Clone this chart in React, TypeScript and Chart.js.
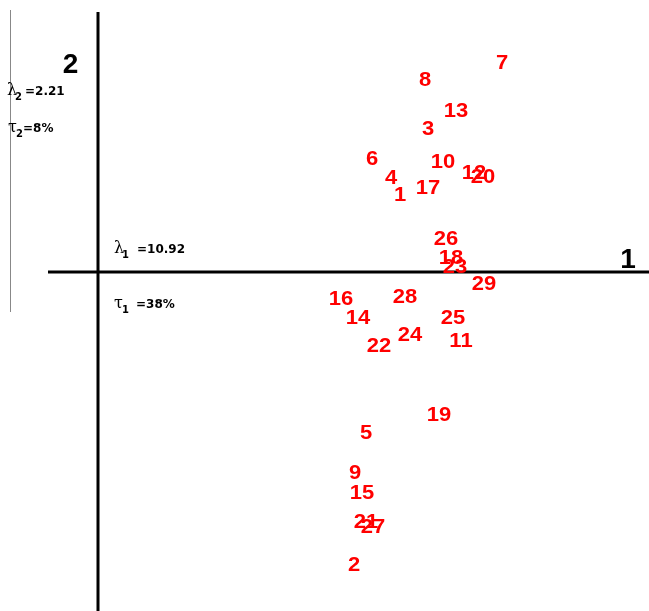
import React, { useEffect, useRef } from "react";
import { Chart, registerables } from "chart.js";

Chart.register(...registerables);

const pointLabels = ["1","2","3","4","5","6","7","8","9","10","11","12","13","14","15","16","17","18","19","20","21","22","23","24","25","26","27","28","29"];
const axis1Scores = [3.02,2.56,3.30,2.93,2.68,2.74,4.04,3.27,2.57,3.45,3.63,3.76,3.58,2.60,2.64,2.43,3.30,3.53,3.41,3.85,2.68,2.81,3.57,3.12,3.55,3.48,2.75,3.07,3.86];
const axis2Scores = [0.78,-2.92,1.44,0.95,-1.60,1.14,2.10,1.93,-2.00,1.11,-0.68,1.00,1.62,-0.45,-2.20,-0.26,0.85,0.15,-1.42,0.96,-2.49,-0.73,0.06,-0.62,-0.45,0.34,-2.54,-0.24,-0.11];
const axisNames = ["1", "2"];
const eigenvalues = ["10.92", "2.21"];
const inertiaShares = ["38%", "8%"];

const labelPlugin = {
  id: "pcaLabels",
  afterDraw(chart: any) {
    const ctx = chart.ctx;
    const xs = chart.scales.x;
    const ys = chart.scales.y;
    const ox = xs.getPixelForValue(0);
    const oy = ys.getPixelForValue(0);
    const W = chart.width;
    const H = chart.height;
    ctx.save();
    // thin gray line on far left
    ctx.strokeStyle = "#888";
    ctx.lineWidth = 1;
    ctx.beginPath();
    ctx.moveTo(10.5, 10);
    ctx.lineTo(10.5, oy + 40);
    ctx.stroke();
    // axes
    ctx.strokeStyle = "#000";
    ctx.lineWidth = 3;
    ctx.beginPath();
    ctx.moveTo(ox, 12);
    ctx.lineTo(ox, H);
    ctx.moveTo(ox - 50, oy);
    ctx.lineTo(W, oy);
    ctx.stroke();

    // axis names
    ctx.fillStyle = "#000";
    ctx.font = "bold 28px 'Liberation Sans', Arial, sans-serif";
    ctx.textAlign = "center";
    ctx.textBaseline = "alphabetic";
    ctx.fillText(axisNames[1], ox - 27.5, 73);
    ctx.fillText(axisNames[0], W - 21, oy - 4.5);

    const drawSub = (sym: string, sub: string, rest: string, x: number, y: number, restX: number) => {
      ctx.textAlign = "left";
      ctx.textBaseline = "alphabetic";
      ctx.font = "16px 'DejaVu Serif', serif";
      ctx.fillText(sym, x, y);
      ctx.font = "bold 10px 'DejaVu Sans', sans-serif";
      ctx.fillText(sub, x + 8, y + 5);
      ctx.font = "bold 12px 'DejaVu Sans', sans-serif";
      ctx.fillText(rest, restX, y);
    };
    drawSub("λ", "2", "=" + eigenvalues[1], 7, 94.5, 25);
    drawSub("τ", "2", "=" + inertiaShares[1], 8, 131.5, 23);
    drawSub("λ", "1", "=" + eigenvalues[0], ox + 16, oy - 19, ox + 39);
    drawSub("τ", "1", "=" + inertiaShares[0], ox + 16, oy + 36, ox + 38);

    // point labels
    ctx.fillStyle = "#ff0000";
    ctx.font = "bold 20px 'Liberation Sans', Arial, sans-serif";
    ctx.textAlign = "center";
    ctx.textBaseline = "alphabetic";
    const meta = chart.getDatasetMeta(0);
    meta.data.forEach((el: any, i: number) => {
      ctx.save();
      ctx.translate(el.x, el.y + 7);
      ctx.scale(1.1, 1);
      ctx.fillText(pointLabels[i], 0, 0);
      ctx.restore();
    });
    ctx.restore();
  },
};

export default function App() {
  const ref = useRef<HTMLCanvasElement>(null);
  useEffect(() => {
    if (!ref.current) return;
    const chart = new Chart(ref.current, {
      type: "scatter",
      data: {
        datasets: [
          {
            data: axis1Scores.map((x, i) => ({ x, y: axis2Scores[i] })),
            pointRadius: 0,
            pointHoverRadius: 0,
          },
        ],
      },
      options: {
        animation: false,
        responsive: true,
        maintainAspectRatio: false,
        layout: { padding: 0 },
        plugins: { legend: { display: false }, tooltip: { enabled: false } },
        scales: {
          x: { type: "linear", display: false, min: -0.98, max: 5.51 },
          y: { type: "linear", display: false, min: -3.39, max: 2.72 },
        },
      },
      plugins: [labelPlugin],
    });
    return () => chart.destroy();
  }, []);
  return (
    <div style={{ position: "fixed", left: 0, top: 0, width: 649, height: 611, background: "#fff" }}>
      <canvas ref={ref} />
    </div>
  );
}
